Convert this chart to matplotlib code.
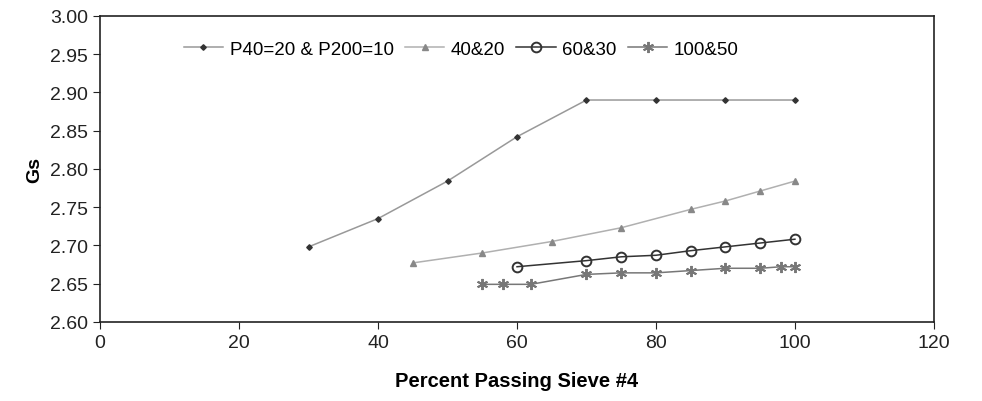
import numpy as np
import matplotlib
matplotlib.use('Agg')
import matplotlib.pyplot as plt

plt.rcParams['font.family'] = ['Liberation Sans', 'DejaVu Sans']

# data
x1 = [30, 40, 50, 60, 70, 80, 90, 100]
y1 = [2.698, 2.735, 2.784, 2.842, 2.890, 2.890, 2.890, 2.890]
x2 = [45, 55, 65, 75, 85, 90, 95, 100]
y2 = [2.677, 2.690, 2.705, 2.723, 2.747, 2.758, 2.771, 2.784]
x3 = [60, 70, 75, 80, 85, 90, 95, 100]
y3 = [2.672, 2.680, 2.685, 2.687, 2.693, 2.698, 2.703, 2.708]
x4 = [55, 58, 62, 70, 75, 80, 85, 90, 95, 98, 100]
y4 = [2.649, 2.649, 2.649, 2.662, 2.664, 2.664, 2.667, 2.670, 2.670, 2.672, 2.672]
labels = ['P40=20 & P200=10', '40&20', '60&30', '100&50']

fig = plt.figure(figsize=(9.82, 4.02), dpi=100)
ax = fig.add_axes([0.102, 0.197, 0.849, 0.761])

ax.plot(x1, y1, color='#999999', lw=1.1, marker='D', ms=2.8,
        mfc='#333333', mec='#333333', label=labels[0])
ax.plot(x2, y2, color='#b0b0b0', lw=1.1, marker='^', ms=4,
        mfc='#888888', mec='#888888', label=labels[1])
ax.plot(x3, y3, color='#333333', lw=1.1, marker='o', ms=7,
        mfc='none', mec='#333333', mew=1.4, label=labels[2])
ax.plot(x4, y4, color='#777777', lw=1.1, marker=(6, 2, 0), ms=8,
        mec='#777777', mew=1.4, label=labels[3])

ax.set_xlim(0, 120)
ax.set_ylim(2.60, 3.00)
ax.set_xticks(np.arange(0, 121, 20))
ax.set_yticks(np.arange(2.60, 3.001, 0.05))
ax.set_yticklabels(['%.2f' % v for v in np.arange(2.60, 3.001, 0.05)])
ax.tick_params(labelsize=14, colors='#222222', direction='out', length=5)
for s in ax.spines.values():
    s.set_color('#222222')
    s.set_linewidth(1.2)

ax.set_xlabel('Percent Passing Sieve #4', fontsize=14.5, fontweight='bold', labelpad=15)
ax.set_ylabel('Gs', fontsize=14, fontweight='bold', labelpad=5)

ax.legend(loc='upper left', bbox_to_anchor=(0.08, 0.975), ncol=4, frameon=False,
          fontsize=13.5, handlelength=2.1, handletextpad=0.35, columnspacing=0.6)

fig.savefig('out.png', dpi=100)
